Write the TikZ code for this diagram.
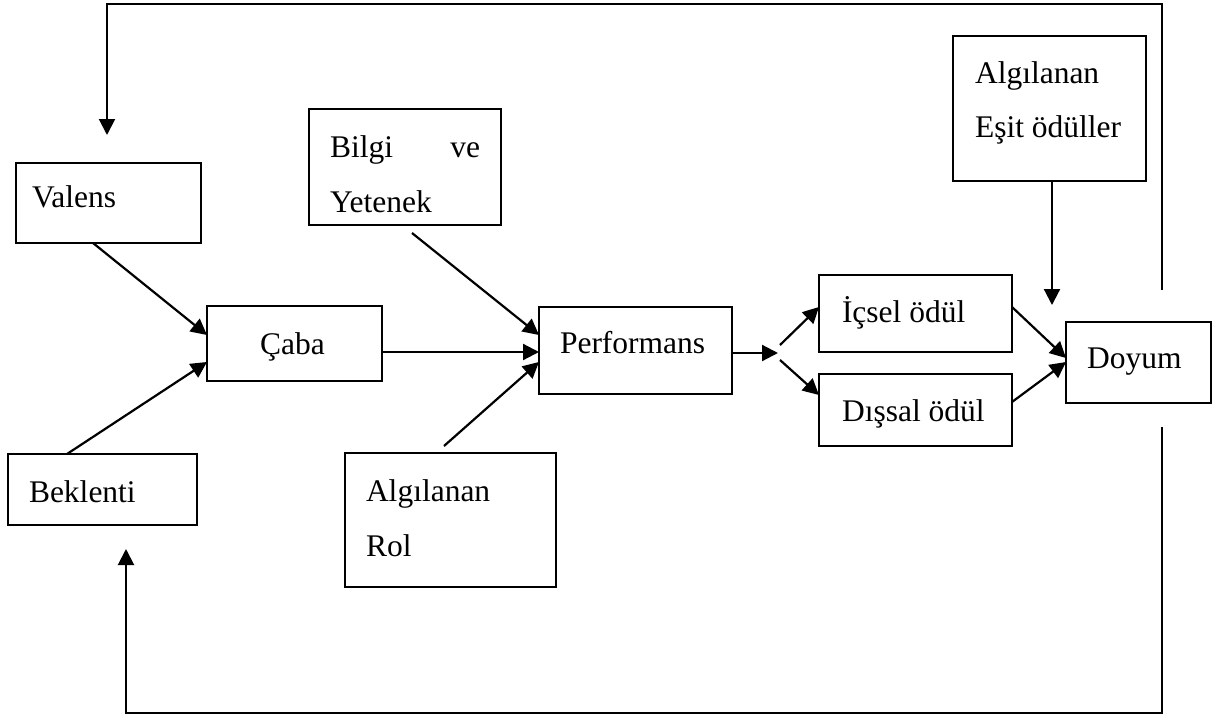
\documentclass[tikz,border=0pt]{standalone}
\usepackage{fontspec}
\setmainfont{Liberation Serif}
\usetikzlibrary{arrows.meta,calc}

\begin{document}
\begin{tikzpicture}[x=1pt,y=-1pt,
  box/.style={draw, line width=2pt, inner sep=0pt, outer sep=0pt, anchor=north west},
  txt/.style={inner sep=0pt, outer sep=0pt, anchor=base west, font=\fontsize{31.5}{37}\selectfont},
  link/.style={line width=2.2pt, -{Triangle[length=16pt,width=16pt]}},
  rail/.style={line width=2pt}]

\useasboundingbox (0,0) rectangle (1219,715);

% boxes
\node[box, minimum width=185pt, minimum height=80pt]  (valens)   at (16,163)  {};
\node[box, minimum width=192pt, minimum height=116pt] (bilgi)    at (309,109) {};
\node[box, minimum width=175pt, minimum height=75pt]  (caba)     at (207,306) {};
\node[box, minimum width=193pt, minimum height=87pt]  (perf)     at (539,307) {};
\node[box, minimum width=189pt, minimum height=71pt]  (beklenti) at (8,454)   {};
\node[box, minimum width=211pt, minimum height=134pt] (rol)      at (345,453) {};
\node[box, minimum width=193pt, minimum height=145pt] (esit)     at (953,36)  {};
\node[box, minimum width=193pt, minimum height=77pt]  (icsel)    at (819,275) {};
\node[box, minimum width=193pt, minimum height=72pt]  (dissal)   at (819,374) {};
\node[box, minimum width=145pt, minimum height=81pt]  (doyum)    at (1066,322) {};

% labels
\node[txt] (tvalens) at (32,207) {Valens};
\node[txt] (tbilgi1) at (330,157) {\hbox to 150pt{Bilgi\hfill ve}};
\node[txt] (tbilgi2) at (330,212) {Yetenek};
\node[txt, anchor=base] (tcaba) at (292.5,354) {Çaba};
\node[txt] (tperf) at (560,353) {Performans};
\node[txt] (tbek) at (29,502) {Beklenti};
\node[txt] (trol1) at (366,501) {Algılanan};
\node[txt] (trol2) at (366,556) {Rol};
\node[txt] (tesit1) at (975,83) {Algılanan};
\node[txt] (tesit2) at (975,137) {Eşit ödüller};
\node[txt] (ticsel) at (842,322) {İçsel ödül};
\node[txt] (tdissal) at (842,421) {Dışsal ödül};
\node[txt] (tdoyum) at (1087,368) {Doyum};

% free ends of connectors
\coordinate (fork)    at ($(perf.north east)+(46,46)$);
\coordinate (forkup)  at ($(fork)+(2,-8)$);
\coordinate (forkdn)  at ($(fork)+(2,7)$);
\coordinate (esitend) at ($(esit.south west)+(99,124)$);
\coordinate (fbtop)   at ($(doyum.north west)+(96,-32)$);
\coordinate (fbbot)   at ($(doyum.south west)+(96,24)$);
\coordinate (valtip)  at ($(valens.north west)+(91,-28)$);
\coordinate (bektip)  at ($(beklenti.south west)+(118,24)$);
\coordinate (toprail) at (0,4);
\coordinate (botrail) at (0,713);

% connectors into Çaba and Performans
\draw[link] ($(valens.south west)+(77,0)$) -- ($(caba.north west)+(0,29)$);
\draw[link] ($(beklenti.north west)+(59,0)$) -- ($(caba.north west)+(0,56)$);
\draw[link] ($(caba.north east)+(0,46)$) -- ($(perf.north west)+(0,45)$);
\draw[link] ($(bilgi.south west)+(103,8)$) -- ($(perf.north west)+(0,28)$);
\draw[link] ($(rol.north west)+(99,-7)$) -- ($(perf.north west)+(0,55)$);

% Performans to rewards
\draw[link] ($(perf.north east)+(0,46)$) -- (fork);
\draw[link] (forkup) -- ($(icsel.north west)+(0,32)$);
\draw[link] (forkdn) -- ($(dissal.north west)+(0,21)$);

% rewards to Doyum
\draw[link] ($(icsel.north east)+(0,32)$) -- ($(doyum.north west)+(0,36)$);
\draw[link] ($(dissal.north east)+(0,28)$) -- ($(doyum.north west)+(0,40)$);
\draw[link] ($(esit.south west)+(99,0)$) -- (esitend);

% feedback loops
\draw[link, rail] (fbtop) -- (fbtop |- toprail) -| (valtip);
\draw[link, rail] (fbbot) -- (fbbot |- botrail) -| (bektip);
\end{tikzpicture}
\end{document}
